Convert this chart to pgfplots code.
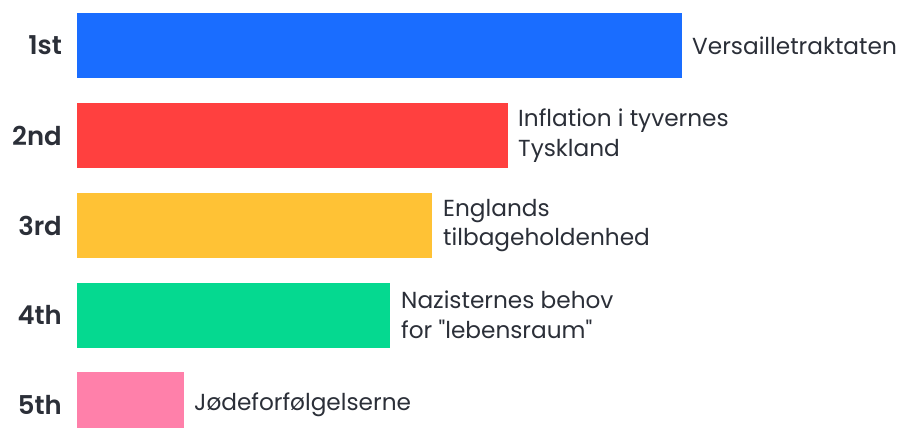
\documentclass[border=0pt]{standalone}
\usepackage{pgfplots}
\pgfplotsset{compat=1.18}
\usepackage{fontspec}
\setmainfont{Poppins}[Ligatures=TeXOff, BoldFont=Poppins SemiBold]
\definecolor{txt}{HTML}{2B2F38}
\definecolor{cblue}{HTML}{1A6DFF}
\definecolor{cred}{HTML}{FF403F}
\definecolor{cyel}{HTML}{FFC235}
\definecolor{cgreen}{HTML}{05D990}
\definecolor{cpink}{HTML}{FF80AA}
\begin{document}
\begin{tikzpicture}
\begin{axis}[
  scale only axis, width=903bp, height=428bp,
  xmin=-77, xmax=826, ymin=0, ymax=428, y dir=reverse,
  hide axis, clip=true,
  xbar, bar width=65, bar shift=0pt,
]
\addplot[draw=none, fill=cblue] coordinates {(605,45.5)};
\addplot[draw=none, fill=cred] coordinates {(431,135.5)};
\addplot[draw=none, fill=cyel] coordinates {(355,225.5)};
\addplot[draw=none, fill=cgreen] coordinates {(313,315)};
\addplot[draw=none, fill=cpink] coordinates {(107,404.5)};
\useasboundingbox (axis cs:-77,0) rectangle (axis cs:826,428);
\begin{scope}[every node/.style={text=txt, font=\fontsize{23.3}{30}\selectfont, align=left, anchor=west, inner sep=0pt}]
\node at (axis cs:615,45.5) {Versailletraktaten};
\node at (axis cs:441,135.5) {Inflation i tyvernes\\Tyskland};
\node at (axis cs:366,225.5) {Englands\\tilbageholdenhed};
\node at (axis cs:324,315) {Nazisternes behov\\for "lebensraum"};
\node at (axis cs:117,404.5) {Jødeforfølgelserne};
\end{scope}
\begin{scope}[every node/.style={text=txt, font=\fontsize{26}{30}\selectfont\bfseries, anchor=east, inner sep=0pt}]
\node at (axis cs:-15,45.5) {1st};
\node at (axis cs:-15,135.5) {2nd};
\node at (axis cs:-15,225.5) {3rd};
\node at (axis cs:-15,315) {4th};
\node at (axis cs:-15,404.5) {5th};
\end{scope}
\end{axis}
\end{tikzpicture}
\end{document}
